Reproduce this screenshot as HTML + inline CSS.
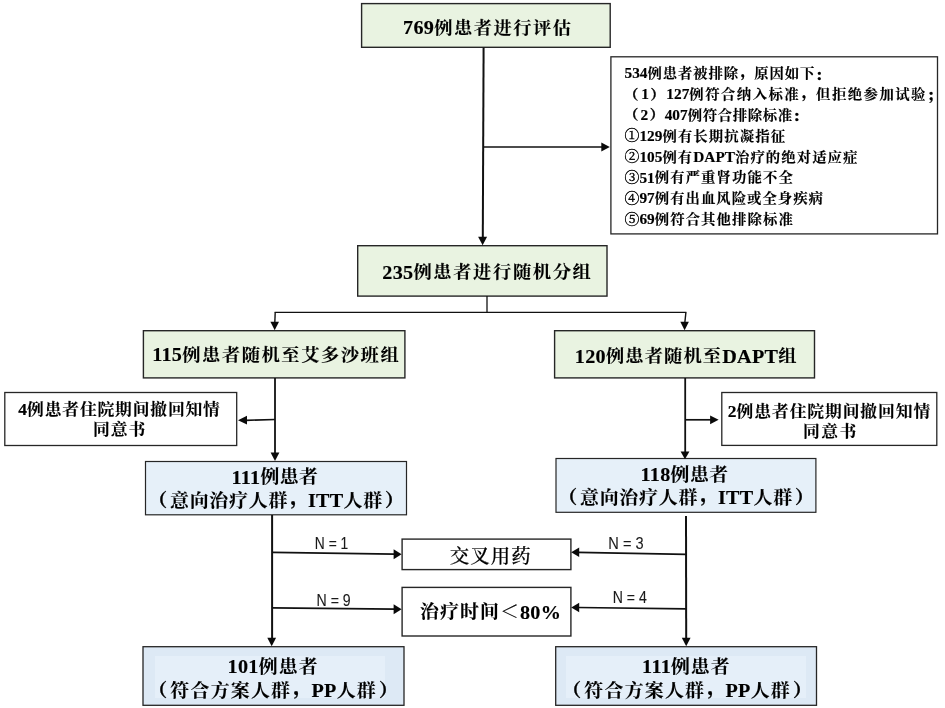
<!DOCTYPE html>
<html lang="zh-CN">
<head>
<meta charset="utf-8">
<title>患者筛选与随机分组流程图</title>
<style>
html,body{margin:0;padding:0;background:#fff;}
body{width:945px;height:708px;overflow:hidden;}
svg{display:block;will-change:transform;}
text{fill:#000;font-family:"Liberation Serif","Noto Serif CJK SC",serif;white-space:pre;}
.b{font-weight:700;stroke:#000;stroke-width:0.15px;}
.c{font-weight:700;stroke:#000;stroke-width:0.12px;}
.p{font-weight:900;stroke:#000;stroke-width:0.3px;}
.m{font-weight:500;stroke:#000;stroke-width:0.2px;}
.r{font-weight:400;}
.o{font-weight:400;stroke:#000;stroke-width:0.35px;}
.n{font-family:"Liberation Sans","Noto Sans CJK SC",sans-serif;font-weight:400;fill:#1a1a1a;stroke:#1a1a1a;stroke-width:0.12px;}
</style>
</head>
<body>
<svg width="945" height="708" viewBox="0 0 945 708">
<rect x="0" y="0" width="945" height="708" fill="#ffffff"/>
<rect x="361.6" y="3.6" width="248.6" height="43.7" fill="#e9f3e1" stroke="#262626" stroke-width="1.4"/>
<rect x="610.9" y="56.8" width="326.6" height="177.1" fill="#fff" stroke="#262626" stroke-width="1.3"/>
<rect x="357.7" y="245.7" width="249.3" height="50.4" fill="#e9f3e1" stroke="#262626" stroke-width="1.4"/>
<rect x="143.4" y="330.7" width="261.5" height="47.2" fill="#e9f3e1" stroke="#262626" stroke-width="1.4"/>
<rect x="554.6" y="330.7" width="259.9" height="47.2" fill="#e9f3e1" stroke="#262626" stroke-width="1.4"/>
<rect x="4.8" y="392.5" width="231.9" height="53.0" fill="#fff" stroke="#262626" stroke-width="1.3"/>
<rect x="721.8" y="392.5" width="215.0" height="52.9" fill="#fff" stroke="#262626" stroke-width="1.3"/>
<rect x="145.5" y="461.5" width="261.0" height="53.3" fill="#e6f0f9" stroke="#262626" stroke-width="1.2"/>
<rect x="556.0" y="458.5" width="259.9" height="53.8" fill="#e6f0f9" stroke="#262626" stroke-width="1.2"/>
<rect x="402.1" y="539.1" width="168.8" height="30.5" fill="#fff" stroke="#262626" stroke-width="1.4"/>
<rect x="402.1" y="587.4" width="168.8" height="48.6" fill="#fff" stroke="#262626" stroke-width="1.4"/>
<rect x="143" y="646.7" width="261" height="58.6" fill="#dde9f5" stroke="#262626" stroke-width="1.3"/>
<rect x="155" y="656" width="230" height="42" fill="#e5eff9"/>
<rect x="555.7" y="646.7" width="260.8" height="58.6" fill="#dde9f5" stroke="#262626" stroke-width="1.3"/>
<rect x="566" y="656" width="240" height="42" fill="#e5eff9"/>
<line x1="483.6" y1="47.5" x2="482.8" y2="238" stroke="#111" stroke-width="2.0"/>
<polygon points="482.6,245.2 478.1,236.7 487.1,236.7" fill="#0a0a0a"/>
<line x1="483.2" y1="147" x2="602" y2="147" stroke="#111" stroke-width="1.7"/>
<polygon points="609.8,147 601.3,142.5 601.3,151.5" fill="#0a0a0a"/>
<line x1="487.0" y1="296" x2="487.0" y2="312.4" stroke="#111" stroke-width="1.3"/>
<line x1="274.6" y1="312.4" x2="686.4" y2="312.4" stroke="#111" stroke-width="1.3"/>
<line x1="275.2" y1="312.4" x2="274.8" y2="323" stroke="#111" stroke-width="1.4"/>
<polygon points="274.7,330.3 270.4,321.8 279.0,321.8" fill="#0a0a0a"/>
<line x1="685.9" y1="312.4" x2="684.8" y2="323" stroke="#111" stroke-width="1.4"/>
<polygon points="684.6,330.3 680.3,321.8 688.9,321.8" fill="#0a0a0a"/>
<line x1="275" y1="378" x2="275" y2="453" stroke="#111" stroke-width="1.8"/>
<polygon points="275,461 270.6,452.5 279.4,452.5" fill="#0a0a0a"/>
<line x1="246" y1="420.3" x2="275" y2="419.5" stroke="#111" stroke-width="1.7"/>
<polygon points="238,420.2 247,415.8 247,424.6" fill="#0a0a0a"/>
<line x1="685.2" y1="378" x2="685.2" y2="452" stroke="#111" stroke-width="1.8"/>
<polygon points="685,459.2 680.6,451.4 689.4,451.4" fill="#0a0a0a"/>
<line x1="685.2" y1="419.8" x2="711" y2="419.8" stroke="#111" stroke-width="1.7"/>
<polygon points="718.6,419.8 710.1,415.4 710.1,424.2" fill="#0a0a0a"/>
<line x1="272.1" y1="515" x2="272.1" y2="638" stroke="#111" stroke-width="2.0"/>
<polygon points="271.7,646.2 267.3,637.7 276.1,637.7" fill="#0a0a0a"/>
<line x1="272.5" y1="552.4" x2="394.5" y2="554.1" stroke="#111" stroke-width="1.7"/>
<polygon points="401.6,554.2 393.6,549.2 393.6,559.2" fill="#0a0a0a"/>
<line x1="272.5" y1="607.9" x2="394.5" y2="609.1" stroke="#111" stroke-width="1.7"/>
<polygon points="401.6,609.2 393.6,604.2 393.6,614.2" fill="#0a0a0a"/>
<line x1="686.0" y1="516" x2="686.2" y2="638" stroke="#111" stroke-width="2.0"/>
<polygon points="686.2,646.2 681.8,637.7 690.6,637.7" fill="#0a0a0a"/>
<line x1="686.3" y1="554.4" x2="578" y2="552.3" stroke="#111" stroke-width="1.7"/>
<polygon points="571.2,552.3 579.2,547.6 579.2,557.0" fill="#0a0a0a"/>
<line x1="686.3" y1="608.9" x2="578" y2="607.5" stroke="#111" stroke-width="1.7"/>
<polygon points="571.2,607.5 579.2,602.8 579.2,612.2" fill="#0a0a0a"/>
<text class="b" transform="translate(403.0 34.0) scale(1.05 1)" font-size="19.2"><tspan letter-spacing="0.3">769</tspan><tspan class="c" font-size="17.4" letter-spacing="1.44" dy="-0.2">例患者进行评估</tspan></text>
<text class="b" transform="translate(624.5 78.3) scale(1.08 1)" font-size="14.2">534<tspan class="c" font-size="13.3" letter-spacing="0.83" dy="-0.1">例患者被排除</tspan><tspan class="c p" font-size="13.3" letter-spacing="0.83" dx="1.6" dy="-2.26">，</tspan><tspan class="c" font-size="13.3" letter-spacing="0.83" dx="-1.6" dy="2.26">原因如下</tspan><tspan class="c p" font-size="13.3" letter-spacing="0.83" dy="1.33">：</tspan></text>
<text class="b" transform="translate(624.0 99.16) scale(1.08 1)" font-size="14.2"><tspan class="c p" font-size="13.3" letter-spacing="2.75" dy="-0.63">（</tspan><tspan dy="0.63">1</tspan><tspan class="c p" font-size="13.3" letter-spacing="1.38" dx="1.37" dy="-0.63">）</tspan><tspan dy="0.63">127</tspan><tspan class="c" font-size="13.3" letter-spacing="1.38" dy="-0.1">例符合纳入标准</tspan><tspan class="c p" font-size="13.3" letter-spacing="1.38" dx="1.6" dy="-2.26">，</tspan><tspan class="c" font-size="13.3" letter-spacing="1.38" dx="-1.6" dy="2.26">但拒绝参加试验</tspan><tspan class="c p" font-size="13.3" letter-spacing="1.38" dy="1.33">；</tspan></text>
<text class="b" transform="translate(624.0 120.01) scale(1.08 1)" font-size="14.2"><tspan class="c p" font-size="13.3" letter-spacing="1.97" dy="-0.63">（</tspan><tspan dy="0.63">2</tspan><tspan class="c p" font-size="13.3" letter-spacing="0.61" dx="1.37" dy="-0.63">）</tspan><tspan dy="0.63">407</tspan><tspan class="c" font-size="13.3" letter-spacing="0.61" dy="-0.1">例符合排除标准</tspan><tspan class="c p" font-size="13.3" letter-spacing="0.61" dy="1.33">：</tspan></text>
<text class="b" transform="translate(624.5 140.87) scale(1.08 1)" font-size="14.2"><tspan class="o" font-size="13.8" dy="-0.4">①</tspan><tspan dy="0.4">129</tspan><tspan class="c" font-size="13.3" letter-spacing="1.05" dy="-0.1">例有长期抗凝指征</tspan></text>
<text class="b" transform="translate(624.5 161.73) scale(1.08 1)" font-size="14.2"><tspan class="o" font-size="13.8" dy="-0.4">②</tspan><tspan dy="0.4">105</tspan><tspan class="c" font-size="13.3" letter-spacing="1.0" dy="-0.1">例有</tspan><tspan dy="0.1">DAPT</tspan><tspan class="c" font-size="13.3" letter-spacing="1.0" dy="-0.1">治疗的绝对适应症</tspan></text>
<text class="b" transform="translate(624.5 182.58) scale(1.08 1)" font-size="14.2"><tspan class="o" font-size="13.8" dy="-0.4">③</tspan><tspan dy="0.4">51</tspan><tspan class="c" font-size="13.3" letter-spacing="1.03" dy="-0.1">例有严重肾功能不全</tspan></text>
<text class="b" transform="translate(624.5 203.44) scale(1.08 1)" font-size="14.2"><tspan class="o" font-size="13.8" dy="-0.4">④</tspan><tspan dy="0.4">97</tspan><tspan class="c" font-size="13.3" letter-spacing="0.96" dy="-0.1">例有出血风险或全身疾病</tspan></text>
<text class="b" transform="translate(624.5 224.3) scale(1.08 1)" font-size="14.2"><tspan class="o" font-size="13.8" dy="-0.4">⑤</tspan><tspan dy="0.4">69</tspan><tspan class="c" font-size="13.3" letter-spacing="1.03" dy="-0.1">例符合其他排除标准</tspan></text>
<text class="b" transform="translate(382.25 278.6) scale(1.05 1)" font-size="19.2"><tspan letter-spacing="0.3">235</tspan><tspan class="c" font-size="17.4" letter-spacing="1.56" dy="-0.2">例患者进行随机分组</tspan></text>
<text class="b" transform="translate(152.2 361.4) scale(1.05 1)" font-size="19.2"><tspan letter-spacing="0.3">115</tspan><tspan class="c" font-size="17.4" letter-spacing="1.48" dy="-0.2">例患者随机至艾多沙班组</tspan></text>
<text class="b" transform="translate(574.8 362.6) scale(1.05 1)" font-size="19.2"><tspan letter-spacing="0.3">120</tspan><tspan class="c" font-size="17.4" letter-spacing="1.06" dy="-0.2">例患者随机至</tspan><tspan dy="0.2" letter-spacing="0.3">DAPT</tspan><tspan class="c" font-size="17.4" letter-spacing="1.06" dy="-0.2">组</tspan></text>
<text class="b" transform="translate(18.15 415) scale(1.03 1)" font-size="17"><tspan letter-spacing="0.2">4</tspan><tspan class="c" font-size="16.3" letter-spacing="0.8" dy="0.1">例患者住院期间撤回知情</tspan></text>
<text class="b" transform="translate(92.9 434.7) scale(1.03 1)" font-size="17"><tspan class="c" font-size="16.3" letter-spacing="0.97" dy="0.1">同意书</tspan></text>
<text class="b" transform="translate(727.65 417) scale(1.03 1)" font-size="17"><tspan letter-spacing="0.2">2</tspan><tspan class="c" font-size="16.3" letter-spacing="0.88" dy="0.1">例患者住院期间撤回知情</tspan></text>
<text class="b" transform="translate(803.0 437) scale(1.03 1)" font-size="17"><tspan class="c" font-size="16.3" letter-spacing="1.43" dy="0.1">同意书</tspan></text>
<text class="b" transform="translate(231.5 483.5) scale(1.05 1)" font-size="19.2"><tspan letter-spacing="0.3">111</tspan><tspan class="c" font-size="18.0" letter-spacing="0.42" dy="-0.2">例患者</tspan></text>
<text class="b" transform="translate(148.25 507.3) scale(1.05 1)" font-size="19.2"><tspan class="c p" font-size="18.0" letter-spacing="2.64" dy="-0.92">（</tspan><tspan class="c" font-size="18.0" letter-spacing="0.79" dy="0.72">意向治疗人群</tspan><tspan class="c p" font-size="18.0" letter-spacing="0.79" dx="2.16" dy="-3.06">，</tspan><tspan dx="-2.16" dy="3.26" letter-spacing="0.3">ITT</tspan><tspan class="c" font-size="18.0" letter-spacing="0.79" dy="-0.2">人群</tspan><tspan class="c p" font-size="18.0" letter-spacing="0.79" dx="1.85" dy="-0.72">）</tspan></text>
<text class="b" transform="translate(640.5 480.8) scale(1.05 1)" font-size="19.2"><tspan letter-spacing="0.3">118</tspan><tspan class="c" font-size="18.0" letter-spacing="0.42" dy="-0.2">例患者</tspan></text>
<text class="b" transform="translate(558.25 504.4) scale(1.05 1)" font-size="19.2"><tspan class="c p" font-size="18.0" letter-spacing="2.64" dy="-0.92">（</tspan><tspan class="c" font-size="18.0" letter-spacing="0.79" dy="0.72">意向治疗人群</tspan><tspan class="c p" font-size="18.0" letter-spacing="0.79" dx="2.16" dy="-3.06">，</tspan><tspan dx="-2.16" dy="3.26" letter-spacing="0.3">ITT</tspan><tspan class="c" font-size="18.0" letter-spacing="0.79" dy="-0.2">人群</tspan><tspan class="c p" font-size="18.0" letter-spacing="0.79" dx="1.85" dy="-0.72">）</tspan></text>
<text class="r" x="449.85" y="562.6" font-size="19.2"><tspan class="m" font-size="19.4" letter-spacing="1.05">交叉用药</tspan></text>
<text class="b" transform="translate(420.1 618.8) scale(1.05 1)" font-size="19.2"><tspan class="c" font-size="18.0" letter-spacing="1.03" dy="-0.5">治疗时间＜</tspan><tspan dy="0.5" letter-spacing="0.3">80%</tspan></text>
<text class="b" transform="translate(227.5 673) scale(1.05 1)" font-size="19.2"><tspan letter-spacing="0.3">101</tspan><tspan class="c" font-size="18.0" letter-spacing="1.06" dy="-0.2">例患者</tspan></text>
<text class="b" transform="translate(148.25 697) scale(1.05 1)" font-size="19.2"><tspan class="c p" font-size="18.0" letter-spacing="3.07" dy="-0.92">（</tspan><tspan class="c" font-size="18.0" letter-spacing="1.21" dy="0.72">符合方案人群</tspan><tspan class="c p" font-size="18.0" letter-spacing="1.21" dx="2.16" dy="-3.06">，</tspan><tspan dx="-2.16" dy="3.26" letter-spacing="0.3">PP</tspan><tspan class="c" font-size="18.0" letter-spacing="1.21" dy="-0.2">人群</tspan><tspan class="c p" font-size="18.0" letter-spacing="1.21" dx="1.85" dy="-0.72">）</tspan></text>
<text class="b" transform="translate(642.1 673) scale(1.05 1)" font-size="19.2"><tspan letter-spacing="0.3">111</tspan><tspan class="c" font-size="18.0" letter-spacing="0.89" dy="-0.2">例患者</tspan></text>
<text class="b" transform="translate(562.25 697) scale(1.05 1)" font-size="19.2"><tspan class="c p" font-size="18.0" letter-spacing="3.07" dy="-0.92">（</tspan><tspan class="c" font-size="18.0" letter-spacing="1.21" dy="0.72">符合方案人群</tspan><tspan class="c p" font-size="18.0" letter-spacing="1.21" dx="2.16" dy="-3.06">，</tspan><tspan dx="-2.16" dy="3.26" letter-spacing="0.3">PP</tspan><tspan class="c" font-size="18.0" letter-spacing="1.21" dy="-0.2">人群</tspan><tspan class="c p" font-size="18.0" letter-spacing="1.21" dx="1.85" dy="-0.72">）</tspan></text>
<text class="n" transform="translate(314.85 549.2) scale(0.842 1)" font-size="16.4">N = 1</text>
<text class="n" transform="translate(316.52 605.5) scale(0.861 1)" font-size="16.4">N = 9</text>
<text class="n" transform="translate(608.29 549.2) scale(0.89 1)" font-size="16.4">N = 3</text>
<text class="n" transform="translate(612.73 602.6) scale(0.858 1)" font-size="16.4">N = 4</text>
</svg>
</body>
</html>
